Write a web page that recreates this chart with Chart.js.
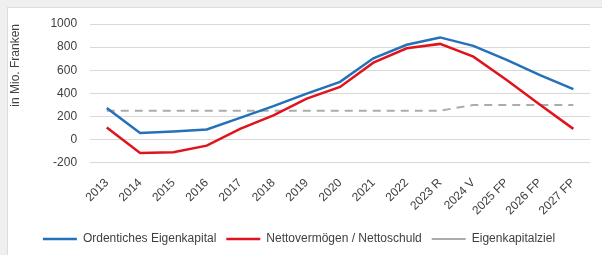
<!DOCTYPE html>
<html>
<head>
<meta charset="utf-8">
<script src="https://cdn.jsdelivr.net/npm/chart.js@4/dist/chart.umd.min.js"></script>
<style>
  html, body { margin: 0; padding: 0; background: #efefef; }
  #frame { position: absolute; left: 7px; top: 7px; width: 594px; height: 247px;
           background: #fff; border-left: 1px solid #dcdcdc; border-top: 1px solid #dcdcdc; }
</style>
</head>
<body>
<div id="frame"><canvas id="chart" width="594" height="247"></canvas></div>
<script>
// Jahre
var years = ["2013", "2014", "2015", "2016", "2017", "2018", "2019", "2020", "2021", "2022",
             "2023 R", "2024 V", "2025 FP", "2026 FP", "2027 FP"];
// in Mio. Franken
var eigenkapital = [273, 58, 70, 88, 188, 290, 398, 500, 703, 820, 884, 811, 689, 558, 436];
var nettovermoegen = [105, -116, -110, -52, 93, 210, 355, 456, 666, 790, 828, 718, 515, 302, 93];
var eigenkapitalziel = [250, 250, 250, 250, 250, 250, 250, 250, 250, 250, 250, 300, 300, 300, 300];
var yTicks = [-200, 0, 200, 400, 600, 800, 1000];

var font = "'Liberation Sans', Arial, sans-serif";
var textColor = '#404040';

new Chart(document.getElementById('chart'), {
    type: 'line',
    data: {
        labels: years,
        datasets: [{
            label: 'Ordentiches Eigenkapital',
            data: eigenkapital,
            borderColor: '#2371b8',
            backgroundColor: '#2371b8',
            borderWidth: 2.5
        }, {
            label: 'Nettovermögen / Nettoschuld',
            data: nettovermoegen,
            borderColor: '#e0141e',
            backgroundColor: '#e0141e',
            borderWidth: 2.5
        }, {
            label: 'Eigenkapitalziel',
            data: eigenkapitalziel,
            borderColor: '#acacac',
            backgroundColor: '#acacac',
            borderWidth: 2,
            borderDash: [8, 6]
        }]
    },
    options: {
        responsive: false,
        animation: false,
        events: [],
        elements: {
            point: {radius: 0},
            line: {tension: 0}
        },
        layout: {padding: {top: 1, right: 12, left: 0, bottom: 0}},
        plugins: {
            tooltip: {enabled: false},
            legend: {
                position: 'bottom',
                labels: {
                    usePointStyle: true,
                    pointStyle: 'line',
                    pointStyleWidth: 34,
                    boxWidth: 34,
                    boxHeight: 12,
                    padding: 10,
                    color: textColor,
                    font: {family: font, size: 12}
                }
            }
        },
        scales: {
            x: {
                offset: true,
                grid: {display: false},
                border: {display: false},
                ticks: {
                    minRotation: 45,
                    maxRotation: 45,
                    padding: 5,
                    color: textColor,
                    font: {family: font, size: 12}
                }
            },
            y: {
                min: yTicks[0],
                max: yTicks[yTicks.length - 1],
                afterBuildTicks: function (axis) {
                    axis.ticks = yTicks.map(function (v) { return {value: v}; });
                },
                afterFit: function (axis) {
                    axis.paddingTop = 16;
                },
                grid: {color: '#d9d9d9', lineWidth: 1, drawTicks: false},
                border: {display: false},
                ticks: {
                    padding: 13,
                    color: textColor,
                    font: {family: font, size: 12},
                    callback: function (v) { return String(v); }
                },
                title: {
                    display: true,
                    text: 'in Mio. Franken',
                    align: 'end',
                    color: textColor,
                    font: {family: font, size: 12},
                    padding: {top: 0, bottom: 15}
                }
            }
        }
    }
});
</script>
</body>
</html>
